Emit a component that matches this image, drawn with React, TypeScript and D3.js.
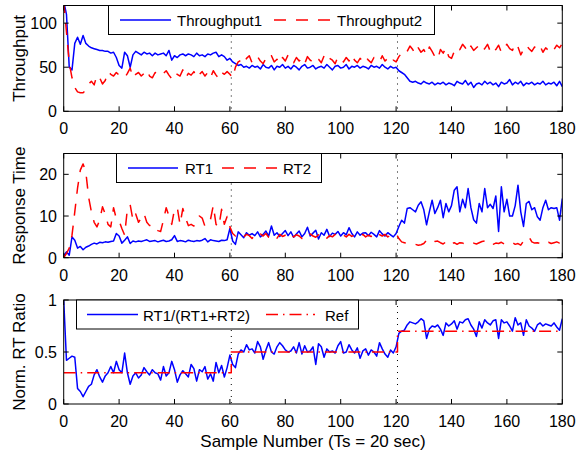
import React from 'react';
import * as d3 from 'd3';

// sample index 0..180
const throughput1 = [
  125, 110, 50, 47, 77, 84, 76, 86, 77, 74,
  72, 71, 70, 69, 69, 68, 68, 66, 67, 61,
  52, 49, 67, 63, 50, 64, 68, 66, 64, 67,
  65, 66, 63, 66, 64, 65, 66, 63, 69, 58,
  63, 61, 64, 65, 63, 65, 64, 62, 66, 63,
  64, 62, 65, 64, 66, 67, 62, 64, 62, 58,
  60, 56, 54, 52, 53, 50, 51, 49, 52, 50,
  51, 48, 53, 50, 49, 52, 47, 51, 50, 53,
  49, 51, 48, 52, 50, 47, 51, 53, 49, 50,
  52, 48, 50, 51, 49, 53, 50, 47, 51, 52,
  49, 50, 53, 48, 51, 50, 52, 49, 51, 50,
  48, 52, 50, 51, 49, 53, 50, 48, 51, 49,
  50, 46, 44, 42, 38, 34, 33, 34, 32, 31,
  34, 32, 31, 33, 30, 32, 31, 33, 30, 32,
  31, 29, 34, 32, 31, 35, 30, 33, 27, 31,
  32, 30, 34, 31, 33, 30, 32, 28, 33, 31,
  32, 36, 30, 33, 31, 34, 29, 32, 31, 33,
  30, 32, 31, 34, 30, 32, 31, 33, 29, 34,
  28,
];

const throughput2 = [
  125, 90, 55, 38, 27, 22, 21, 21, 24, 31,
  34, 30, 41, 38, 31, 35, 45, 42, 40, 44,
  41, 40, 38, 43, 49, 38, 42, 44, 40, 43,
  47, 40, 38, 44, 42, 40, 43, 46, 41, 37,
  44, 42, 40, 47, 38, 43, 41, 45, 38, 42,
  45, 40, 44, 38, 46, 41, 37, 44, 42, 45,
  42, 38, 50, 56, 58, 54, 60, 63, 55, 58,
  62, 57, 54, 60, 58, 63, 56, 59, 54, 61,
  57, 64, 58, 55, 61, 57, 60, 54, 62, 58,
  56, 61, 59, 55, 63, 57, 60, 58, 54, 62,
  59, 56, 61, 57, 64, 58, 55, 60, 57, 62,
  58, 55, 61, 59, 56, 63, 57, 60, 55, 58,
  56, 62, 66, 64, 68, 74, 70, 65, 72, 67,
  70, 64, 73, 68, 62, 59, 70, 66, 72, 62,
  60, 68, 73, 70, 76, 72, 67, 74, 69, 72,
  75, 69, 71, 76, 68, 73, 70, 75, 67, 72,
  76, 71, 69, 77, 73, 64, 70, 75, 71, 68,
  73, 70, 74, 67, 72, 69, 73, 70, 75, 72,
  77,
];

const rt1 = [
  0.5, 1.4, 0.6, 5.0, 4.2, 2.3, 2.7, 1.9, 2.5, 2.8,
  3.2, 3.5, 3.3, 3.7, 3.6, 3.8, 3.7, 3.9, 4.0, 5.8,
  5.2, 3.5, 4.2, 5.0, 3.4, 4.0, 3.8, 4.0, 3.9, 4.1,
  4.3, 3.9, 4.0, 4.1, 3.8, 4.0, 4.2, 3.9, 4.0, 4.3,
  5.3, 3.9, 4.1, 4.0, 3.8, 4.2, 4.0, 3.9, 4.1, 4.0,
  4.2, 4.6, 3.8, 4.3, 4.1, 4.0, 3.9, 4.2, 4.1, 4.3,
  7.0, 4.0, 3.2, 6.2, 5.5, 4.8, 6.0, 5.4, 5.8, 5.3,
  6.2, 5.0, 5.6, 6.4, 5.2, 7.6, 5.4, 6.0, 5.1, 5.8,
  6.5, 5.3, 6.2, 4.9, 5.7, 6.4, 5.0, 5.8, 7.3, 5.2,
  5.9, 6.6, 4.5, 6.0, 5.4, 6.8, 5.1, 5.9, 5.6, 6.3,
  5.2, 6.0, 5.5, 7.2, 5.8, 5.0, 6.2, 5.4, 5.9, 6.0,
  5.3, 6.1, 5.6, 5.0, 6.5, 5.7, 5.2, 6.0, 5.5, 5.0,
  5.8, 7.5, 9.0, 8.3, 11.8, 12.0, 11.5, 11.0, 12.6, 13.4,
  11.5, 7.9, 11.0, 13.8, 10.6, 12.0, 13.8, 9.6, 13.0, 11.0,
  12.5, 16.2, 17.0, 11.0, 14.0, 12.0, 16.6, 12.0, 9.1, 8.3,
  13.0, 11.0, 16.6, 12.0, 12.8, 11.8, 14.8, 6.3, 17.0, 11.0,
  14.0, 10.0, 10.0, 12.5, 17.4, 11.0, 7.5, 13.0, 13.5, 11.5,
  12.0, 9.8, 9.0, 12.0, 13.8, 11.5, 12.0, 11.8, 12.0, 9.0,
  14.2,
];

const rt2 = [
  0, 1.0, 2.3, 5.4, 11, 16.7, 21.0, 22.5, 20.5, 14.5,
  11.0, 8.5, 7.4, 9.0, 12.2, 10.5, 8.0, 7.4, 12.0, 9.3,
  8.9, 7.0, 5.4, 11.8, 12.7, 9.0, 10.5, 8.5, 9.5, 10.6,
  8.5, 7.7, 8.0, 7.0, 6.5, 6.3, 9.0, 12.0, 10.0, 8.0,
  11.6, 12.0, 8.0, 11.8, 9.5, 7.7, 8.0, 7.6, 9.0, 10.0,
  9.5, 7.5, 8.5, 9.2, 12.5, 8.0, 7.4, 11.6, 8.0, 9.9,
  7.4, 5.8, 5.2, 5.5, 4.8, 5.0, 5.6, 5.3, 4.6, 5.4,
  5.0, 5.7, 5.2, 5.8, 4.9, 5.3, 5.5, 4.7, 5.6, 5.1,
  5.4, 4.8, 5.6, 5.0, 5.5, 5.2, 4.6, 5.4, 5.0, 5.7,
  5.2, 4.9, 5.5, 5.1, 5.6, 4.7, 5.3, 5.0, 5.6, 5.2,
  4.8, 5.4, 5.0, 5.6, 5.1, 5.5, 4.9, 5.3, 5.6, 5.0,
  5.4, 5.1, 5.7, 5.0, 5.5, 5.2, 5.6, 5.0, 5.4, 5.8,
  5.8, 4.6, 3.8, 3.6, 3.4, 3.5, 3.3, 3.2, 3.0, 3.1,
  3.4, 4.2, 3.8, 3.5, 3.9, 4.0, 3.6, 3.3, 3.8, 4.2,
  3.4, 3.6, 3.2, 3.6, 3.5, 3.3, 3.6, 3.4, 3.5, 3.3,
  3.6, 3.9, 4.0, 3.4, 3.6, 3.2, 3.5, 3.4, 3.7, 3.3,
  3.5, 3.8, 3.6, 3.2, 3.4, 3.0, 4.0, 4.7, 5.0, 3.8,
  3.5, 3.6, 3.4, 3.8, 3.5, 3.7, 3.4, 3.6, 3.8, 3.5,
  3.6,
];

const rtRatio = [
  1.0, 0.42, 0.44, 0.46, 0.45, 0.15, 0.12, 0.07, 0.12, 0.17,
  0.19, 0.28, 0.33, 0.26, 0.21, 0.27, 0.30, 0.36, 0.30, 0.41,
  0.33, 0.30, 0.49, 0.30, 0.19, 0.27, 0.30, 0.25, 0.28, 0.35,
  0.31, 0.28, 0.33, 0.30, 0.29, 0.23, 0.36, 0.27, 0.30, 0.41,
  0.33, 0.21, 0.28, 0.32, 0.29, 0.26, 0.38, 0.34, 0.22, 0.33,
  0.31, 0.36, 0.24, 0.29, 0.22, 0.40, 0.30, 0.37, 0.26, 0.35,
  0.47, 0.38, 0.35, 0.48, 0.52, 0.50, 0.57, 0.52, 0.53, 0.49,
  0.60, 0.55, 0.43, 0.52, 0.59, 0.50, 0.48, 0.55, 0.59, 0.56,
  0.52, 0.50, 0.51, 0.55, 0.49, 0.59, 0.48, 0.56, 0.50, 0.51,
  0.55, 0.38, 0.58, 0.55, 0.45, 0.53, 0.50, 0.51, 0.49, 0.56,
  0.60, 0.49, 0.50, 0.57, 0.52, 0.49, 0.54, 0.44, 0.51, 0.53,
  0.47, 0.52, 0.50, 0.46, 0.59, 0.53, 0.48, 0.45, 0.52, 0.49,
  0.55, 0.68, 0.70, 0.71, 0.76, 0.79, 0.78, 0.77, 0.79, 0.82,
  0.80, 0.63, 0.72, 0.75, 0.74, 0.76, 0.72, 0.66, 0.78, 0.75,
  0.77, 0.80, 0.72, 0.79, 0.78, 0.81, 0.82, 0.76, 0.72, 0.65,
  0.79, 0.73, 0.81, 0.78, 0.76, 0.80, 0.81, 0.63, 0.81, 0.78,
  0.79, 0.75, 0.70, 0.83, 0.76, 0.78, 0.66, 0.81, 0.75, 0.73,
  0.70, 0.76, 0.78, 0.75, 0.77, 0.76, 0.75, 0.78, 0.74, 0.71,
  0.82,
];

// reference ratio: step points (sample, value)
const refSamples = [0, 60.5, 120.5, 180];
const refValues = [0.3, 0.5, 0.7, 0.7];

// sample numbers where the workload switches (dotted lines)
const switchSamples = [60.5, 120.5];

const xTicks = [0, 20, 40, 60, 80, 100, 120, 140, 160, 180];

const W = 577;
const H = 455;
const FONT = '"Liberation Sans", Arial, Helvetica, sans-serif';
const BLUE = '#0000ff';
const RED = '#ff0000';
const DASH = '12,10';
const DASHDOT = '12,5,1.5,5';

const x = d3.scaleLinear().domain([0, 180]).range([63.7, 562.3]);

type Series = { values: number[]; xs?: number[]; color: string; dash?: string; step?: boolean; label: string };
type LegendItem = { lineX0: number; lineX1: number; textX: number };

type PanelProps = {
  id: string;
  top: number;
  bottom: number;
  domain: [number, number];
  yTicks: number[];
  yLabel: string;
  series: Series[];
  legendBox: [number, number];
  legendItems: LegendItem[];
};

function Panel({ id, top, bottom, domain, yTicks, yLabel, series, legendBox, legendItems }: PanelProps) {
  const y = d3.scaleLinear().domain(domain).range([bottom, top]);
  const [x0, x1] = x.range();
  const tickLen = 5;

  return (
    <g>
      <defs>
        <clipPath id={`clip-${id}`}>
          <rect x={x0} y={top} width={x1 - x0} height={bottom - top} />
        </clipPath>
      </defs>

      {/* dotted switch lines */}
      {switchSamples.map(s => (
        <line key={s} x1={x(s)} x2={x(s)} y1={top} y2={bottom}
          stroke="#000" strokeWidth={1} strokeDasharray="1,5" />
      ))}

      <g clipPath={`url(#clip-${id})`}>
        {series.map((s, i) => {
          const xs = s.xs ?? s.values.map((_, k) => k);
          const pts: [number, number][] = s.values.map((v, k) => [xs[k], v]);
          const line = d3.line<[number, number]>()
            .x(d => x(d[0]))
            .y(d => y(d[1]))
            .curve(s.step ? d3.curveStepAfter : d3.curveLinear);
          return (
            <path key={i} d={line(pts) || ''} fill="none" stroke={s.color}
              strokeWidth={1.5} strokeDasharray={s.dash} strokeLinejoin="round" />
          );
        })}
      </g>

      {/* box */}
      <rect x={x0} y={top} width={x1 - x0} height={bottom - top} fill="none" stroke="#000" strokeWidth={1} />

      {/* x ticks */}
      {xTicks.map(t => (
        <g key={t}>
          <line x1={x(t)} x2={x(t)} y1={bottom} y2={bottom - tickLen} stroke="#000" />
          <line x1={x(t)} x2={x(t)} y1={top} y2={top + tickLen} stroke="#000" />
          <text x={x(t)} y={bottom + 23} textAnchor="middle" fontSize={16} fontFamily={FONT}>{t}</text>
        </g>
      ))}

      {/* y ticks */}
      {yTicks.map(t => (
        <g key={t}>
          <line x1={x0} x2={x0 + tickLen} y1={y(t)} y2={y(t)} stroke="#000" />
          <line x1={x1} x2={x1 - tickLen} y1={y(t)} y2={y(t)} stroke="#000" />
          <text x={57} y={y(t) + 6} textAnchor="end" fontSize={16} fontFamily={FONT}>{t}</text>
        </g>
      ))}

      <text transform={`translate(25, ${(top + bottom) / 2}) rotate(-90)`} textAnchor="middle"
        fontSize={17} fontFamily={FONT}>{yLabel}</text>

      {/* legend */}
      <rect x={legendBox[0]} y={top} width={legendBox[1] - legendBox[0]} height={29}
        fill="#fff" stroke="#000" strokeWidth={1} />
      {legendItems.map((it, i) => (
        <g key={i}>
          <line x1={it.lineX0} x2={it.lineX1} y1={top + 14.5} y2={top + 14.5}
            stroke={series[i].color} strokeWidth={1.5} strokeDasharray={series[i].dash} />
          <text x={it.textX} y={top + 20.5} fontSize={15} fontFamily={FONT}>{series[i].label}</text>
        </g>
      ))}
    </g>
  );
}

export default function App() {
  return (
    <div style={{ position: 'absolute', left: 0, top: 0 }}>
      <svg width={W} height={H} style={{ display: 'block', background: '#fff' }}>
        <Panel
          id="tp"
          top={5.5}
          bottom={111.3}
          domain={[0, 120]}
          yTicks={[0, 50, 100]}
          yLabel="Throughput"
          series={[
            { values: throughput1, color: BLUE, label: 'Throughput1' },
            { values: throughput2, color: RED, dash: DASH, label: 'Throughput2' },
          ]}
          legendBox={[108.5, 434.5]}
          legendItems={[
            { lineX0: 120, lineX1: 171, textX: 177 },
            { lineX0: 274, lineX1: 330, textX: 337 },
          ]}
        />
        <Panel
          id="rt"
          top={153.5}
          bottom={257.7}
          domain={[0, 25]}
          yTicks={[0, 10, 20]}
          yLabel="Response Time"
          series={[
            { values: rt1, color: BLUE, label: 'RT1' },
            { values: rt2, color: RED, dash: DASH, label: 'RT2' },
          ]}
          legendBox={[116.5, 321.5]}
          legendItems={[
            { lineX0: 128, lineX1: 178, textX: 185 },
            { lineX0: 222, lineX1: 277, textX: 283 },
          ]}
        />
        <Panel
          id="ratio"
          top={300}
          bottom={404}
          domain={[0, 1]}
          yTicks={[0, 0.5, 1]}
          yLabel="Norm. RT Ratio"
          series={[
            { values: rtRatio, color: BLUE, label: 'RT1/(RT1+RT2)' },
            { values: refValues, xs: refSamples, color: RED, dash: DASHDOT, step: true, label: 'Ref' },
          ]}
          legendBox={[76.5, 358.5]}
          legendItems={[
            { lineX0: 87, lineX1: 138, textX: 143 },
            { lineX0: 266, lineX1: 315, textX: 325 },
          ]}
        />
        <text x={(63.7 + 562.3) / 2} y={446.5} textAnchor="middle" fontSize={17} fontFamily={FONT}>
          Sample Number (Ts = 20 sec)
        </text>
      </svg>
    </div>
  );
}
